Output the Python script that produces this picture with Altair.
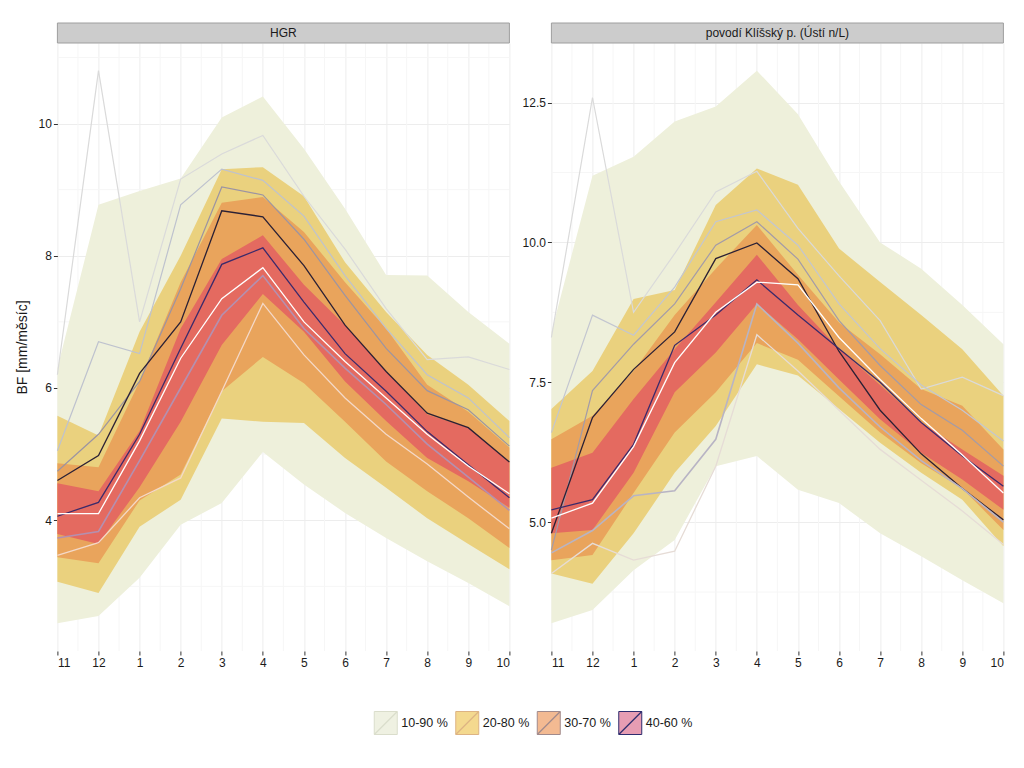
import altair as alt
import pandas as pd

FONT = "Liberation Sans"

# ---------------- data ----------------
months = ["11", "12", "1", "2", "3", "4", "5", "6", "7", "8", "9", "10"]
bands = ["10-90 %", "20-80 %", "30-70 %", "40-60 %"]

# HGR panel: quantile ribbons
hgr_q10 = [2.44, 2.55, 3.13, 3.93, 4.26, 5.03, 4.54, 4.11, 3.73, 3.38, 3.05, 2.70]
hgr_q90 = [6.30, 8.77, 8.98, 9.17, 10.09, 10.41, 9.62, 8.71, 7.71, 7.70, 7.15, 6.67]
hgr_q20 = [3.07, 2.90, 3.90, 4.31, 5.54, 5.49, 5.47, 4.94, 4.49, 4.03, 3.64, 3.26]
hgr_q80 = [5.58, 5.28, 6.85, 8.00, 9.31, 9.34, 8.90, 7.90, 7.15, 6.50, 6.05, 5.50]
hgr_q30 = [3.44, 3.35, 4.30, 4.69, 5.95, 6.47, 6.07, 5.49, 4.89, 4.44, 4.03, 3.58]
hgr_q70 = [4.86, 4.80, 6.10, 7.60, 8.80, 8.89, 8.36, 7.60, 6.90, 6.05, 5.64, 5.10]
hgr_q40 = [3.79, 3.64, 4.50, 5.49, 6.65, 7.42, 6.85, 6.10, 5.50, 4.94, 4.59, 4.19]
hgr_q60 = [4.56, 4.44, 5.35, 6.90, 7.95, 8.31, 7.56, 6.95, 6.25, 5.60, 5.40, 4.88]

# HGR panel: lines
hgr_l1 = [6.20, 10.80, 7.00, 9.16, 9.54, 9.82, 8.90, 8.10, 7.20, 6.43, 6.47, 6.28]
hgr_l2 = [5.05, 6.70, 6.52, 8.77, 9.31, 9.14, 8.60, 7.70, 6.90, 6.20, 5.85, 5.25]
hgr_l3 = [4.74, 5.30, 6.10, 7.50, 9.04, 8.92, 8.25, 7.40, 6.60, 5.96, 5.67, 5.12]
hgr_l4 = [4.60, 4.98, 6.22, 7.00, 8.68, 8.59, 7.85, 6.95, 6.25, 5.62, 5.40, 4.88]
hgr_l5 = [4.06, 4.27, 5.30, 6.60, 7.87, 8.12, 7.30, 6.52, 5.95, 5.34, 4.84, 4.34]
hgr_lw = [4.10, 4.10, 5.20, 6.45, 7.35, 7.82, 7.00, 6.40, 5.85, 5.30, 4.82, 4.40]
hgr_l7 = [3.73, 3.83, 4.90, 6.00, 7.10, 7.70, 6.90, 6.30, 5.75, 5.15, 4.65, 4.15]
hgr_l8 = [3.47, 3.66, 4.34, 4.64, 5.95, 7.28, 6.50, 5.85, 5.30, 4.85, 4.35, 3.87]

# Klíšský panel: quantile ribbons
kl_q10 = [3.19, 3.43, 4.14, 4.68, 6.00, 6.18, 5.58, 5.34, 4.80, 4.39, 3.96, 3.55]
kl_q90 = [8.40, 11.19, 11.53, 12.16, 12.43, 13.07, 12.29, 11.09, 10.00, 9.53, 8.88, 8.18]
kl_q20 = [4.08, 3.90, 4.80, 5.88, 6.72, 7.82, 7.62, 7.02, 6.42, 5.88, 5.40, 4.57]
kl_q80 = [7.02, 7.70, 8.99, 9.15, 10.67, 11.32, 11.03, 9.89, 9.29, 8.70, 8.09, 7.26]
kl_q30 = [4.32, 4.41, 5.52, 6.60, 7.32, 8.20, 7.90, 7.25, 6.60, 6.05, 5.60, 4.86]
kl_q70 = [6.48, 6.90, 7.70, 8.70, 9.53, 10.31, 9.42, 8.57, 8.00, 7.38, 7.08, 6.30]
kl_q40 = [4.80, 4.86, 5.88, 7.32, 8.03, 8.90, 8.27, 7.55, 6.84, 6.24, 5.76, 5.22]
kl_q60 = [5.97, 6.24, 7.20, 8.09, 8.93, 9.78, 8.88, 8.10, 7.45, 6.78, 6.30, 5.83]

# Klíšský panel: lines
kl_l1 = [8.30, 12.59, 8.75, 9.80, 10.90, 11.27, 10.25, 9.40, 8.60, 7.38, 7.59, 7.26]
kl_l2 = [6.60, 8.70, 8.34, 9.20, 10.37, 10.58, 9.95, 8.90, 8.10, 7.45, 7.00, 6.45]
kl_l3 = [4.50, 7.35, 8.18, 8.90, 9.95, 10.37, 9.70, 8.60, 7.80, 7.10, 6.64, 6.00]
kl_l4 = [4.80, 6.87, 7.73, 8.40, 9.71, 9.99, 9.35, 8.05, 7.00, 6.22, 5.60, 5.04]
kl_l5 = [5.22, 5.40, 6.39, 8.16, 8.70, 9.33, 8.70, 8.10, 7.50, 6.78, 6.18, 5.64]
kl_lw = [5.07, 5.34, 6.35, 7.85, 8.75, 9.29, 9.24, 8.30, 7.55, 6.85, 6.20, 5.52]
kl_l7 = [4.45, 4.85, 5.47, 5.56, 6.48, 8.90, 8.20, 7.40, 6.70, 6.10, 5.60, 5.00]
kl_l8 = [4.08, 4.62, 4.32, 4.48, 6.00, 8.35, 7.70, 7.00, 6.30, 5.75, 5.20, 4.60]

# axis ticks
hgr_ticks = [4, 6, 8, 10]
hgr_minor = [3, 5, 7, 9, 11]
kl_ticks = [5.0, 7.5, 10.0, 12.5]
kl_minor = [3.75, 6.25, 8.75, 11.25]

# ---------------- styles ----------------
band_fill = ["#EEF0DB", "#EAD17E", "#E9A45C", "#E46A60"]
legend_fill = ["#EFF1E2", "#F4D98F", "#F3BA92", "#E79DB3"]
legend_line = ["#DADDCB", "#DDB383", "#A08A8C", "#2E2D6E"]
line_names = ["l1", "l2", "l3", "l4", "l5", "lw", "l7", "l8"]
hgr_line_colors = ["#DADADA", "#BEC2CE", "#9C94A2", "#2B2035", "#3B2A6B", "#FFFFFF", "#B490B0", "#F4D9C8"]
kl_line_colors = ["#DADADA", "#C3C6D0", "#A39BA8", "#2B2035", "#3B2A6B", "#FFFFFF", "#B8B4C4", "#E6DCD6"]
line_widths = [1.2, 1.2, 1.2, 1.3, 1.3, 1.3, 1.6, 1.3]

W, H = 452, 608
n = len(months)
idx = list(range(n))
label_js = "[" + ",".join("'%s'" % m for m in months) + "][datum.value]"


def panel(name, q, lines, colors, ticks, minor, fmt, ytitle):
    lo_all = min(min(v) for v in list(q) + list(lines))
    hi_all = max(max(v) for v in list(q) + list(lines))
    pad = (hi_all - lo_all) * 0.05
    ysc = alt.Scale(domain=[lo_all - pad, hi_all + pad], nice=False, zero=False)
    xsc = alt.Scale(domain=[0, n - 1], nice=False, zero=False)
    X = alt.X("x:Q", scale=xsc,
              axis=alt.Axis(values=idx, labelExpr=label_js, title=None, grid=True))
    yaxis = alt.Axis(values=ticks, format=fmt, title=ytitle, grid=True)

    layers = []
    xm = pd.DataFrame({"x": [i + 0.5 for i in idx[:-1]]})
    layers.append(alt.Chart(xm).mark_rule(color="#F6F6F6", strokeWidth=1).encode(x=X))
    ym = pd.DataFrame({"y": minor})
    layers.append(alt.Chart(ym).mark_rule(color="#F6F6F6", strokeWidth=1).encode(
        y=alt.Y("y:Q", scale=ysc, axis=yaxis)))

    pairs = [(q[0], q[1]), (q[2], q[3]), (q[4], q[5]), (q[6], q[7])]
    for k, (lo, hi) in enumerate(pairs):
        df = pd.DataFrame({"x": idx, "lo": lo, "hi": hi})
        layers.append(alt.Chart(df).mark_area(color=band_fill[k], opacity=1).encode(
            x=X, y=alt.Y("lo:Q", scale=ysc, axis=yaxis), y2="hi:Q"))

    rows = []
    for li, vals in enumerate(lines):
        for i, v in enumerate(vals):
            rows.append({"x": i, "y": v, "line": line_names[li],
                         "col": colors[li], "w": line_widths[li]})
    ldf = pd.DataFrame(rows)
    layers.append(alt.Chart(ldf).mark_line().encode(
        x=X, y=alt.Y("y:Q", scale=ysc, axis=yaxis),
        stroke=alt.Stroke("col:N", scale=None),
        strokeWidth=alt.StrokeWidth("w:Q", scale=None),
        detail="line:N"))

    sdf = pd.DataFrame({"t": [name]})
    layers.append(alt.Chart(sdf).mark_rect(fill="#CCCCCC", stroke="#9E9E9E", strokeWidth=1).encode(
        x=alt.value(0), x2=alt.value(W), y=alt.value(-20), y2=alt.value(0)))
    layers.append(alt.Chart(sdf).mark_text(font=FONT, fontSize=12, color="#1A1A1A").encode(
        x=alt.value(W / 2), y=alt.value(-10), text="t:N"))

    return alt.layer(*layers).properties(
        width=W, height=H, view=alt.ViewBackground(stroke="#9A9A9A", strokeWidth=1))


p1 = panel("HGR",
           [hgr_q10, hgr_q90, hgr_q20, hgr_q80, hgr_q30, hgr_q70, hgr_q40, hgr_q60],
           [hgr_l1, hgr_l2, hgr_l3, hgr_l4, hgr_l5, hgr_lw, hgr_l7, hgr_l8],
           hgr_line_colors, hgr_ticks, hgr_minor, ".0f", "BF [mm/měsíc]")
p2 = panel("povodí Klíšský p. (Ústí n/L)",
           [kl_q10, kl_q90, kl_q20, kl_q80, kl_q30, kl_q70, kl_q40, kl_q60],
           [kl_l1, kl_l2, kl_l3, kl_l4, kl_l5, kl_lw, kl_l7, kl_l8],
           kl_line_colors, kl_ticks, kl_minor, ".1f", None)

panels = alt.hconcat(p1, p2, spacing=8).resolve_scale(x="independent", y="independent")

# ---------------- custom legend ----------------
leg_df = pd.DataFrame({"band": bands, "f": legend_fill, "s": legend_line})
lx = alt.X("band:N", sort=bands, scale=alt.Scale(padding=0.5), axis=None)
off = -24
sq = alt.Chart(leg_df).mark_point(shape="M-1,-1L1,-1L1,1L-1,1Z", size=529, filled=True,
                                  opacity=1, strokeWidth=1, xOffset=off).encode(
    x=lx, y=alt.value(12),
    fill=alt.Fill("f:N", scale=None), stroke=alt.Stroke("s:N", scale=None))
dg = alt.Chart(leg_df).mark_point(shape="M-1,1L1,-1", size=529, filled=False,
                                  opacity=1, strokeWidth=1.3, xOffset=off).encode(
    x=lx, y=alt.value(12), stroke=alt.Stroke("s:N", scale=None))
tx = alt.Chart(leg_df).mark_text(align="left", baseline="middle", font=FONT, fontSize=12.5,
                                 color="#1A1A1A", dx=off + 15.5).encode(
    x=lx, y=alt.value(12), text="band:N")
legend = alt.layer(sq, dg, tx).properties(
    width=326, height=24, view=alt.ViewBackground(strokeOpacity=0, strokeWidth=0))

chart = alt.vconcat(panels, legend, spacing=40, center=True).properties(
    padding={"left": 7, "top": 14, "right": 5, "bottom": 5}
).configure_view(strokeOpacity=0).configure_axis(
    labelFont=FONT, labelFontSize=12, labelColor="#1A1A1A",
    titleFont=FONT, titleFontSize=14, titleFontWeight="normal", titleColor="#1A1A1A",
    titlePadding=9, tickColor="#333333", tickSize=4, labelPadding=2,
    domain=False, gridColor="#EDEDED", gridWidth=1
)

chart.save("out.html", embed_options={"renderer": "svg", "actions": False})
